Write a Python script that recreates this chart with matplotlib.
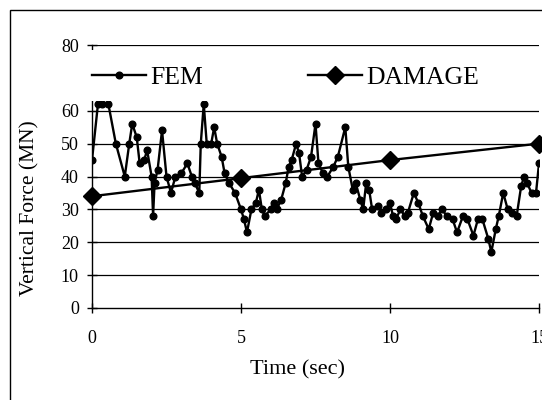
import matplotlib
matplotlib.use("Agg")

import matplotlib.pyplot as plt
from matplotlib.patches import Rectangle

# FEM vertical force time history (MN)
fem_time = [0.0, 0.2, 0.35, 0.55, 0.8, 1.1, 1.25, 1.35, 1.5, 1.6, 1.75, 1.85,
            2.0, 2.05, 2.1, 2.2, 2.35, 2.5, 2.65, 2.8, 3.0, 3.2, 3.35, 3.45,
            3.6, 3.65, 3.75, 3.85, 4.0, 4.1, 4.2, 4.35, 4.45, 4.6, 4.8, 5.0,
            5.1, 5.2, 5.35, 5.5, 5.6, 5.7, 5.8, 6.0, 6.1, 6.2, 6.35, 6.5,
            6.6, 6.7, 6.85, 6.95, 7.05, 7.2, 7.35, 7.5, 7.6, 7.75, 7.9, 8.1,
            8.25, 8.5, 8.6, 8.75, 8.85, 9.0, 9.1, 9.2, 9.3, 9.4, 9.6, 9.7,
            9.85, 10.0, 10.1, 10.2, 10.35, 10.5, 10.6, 10.8, 10.95, 11.1, 11.3,
            11.45, 11.6, 11.75, 11.9, 12.1, 12.25, 12.45, 12.6, 12.8, 12.95,
            13.1, 13.3, 13.4, 13.55, 13.65, 13.8, 13.95, 14.1, 14.25, 14.4,
            14.5, 14.6, 14.75, 14.9, 15.0]
fem_force = [45, 62, 62, 62, 50, 40, 50, 56, 52, 44, 45, 48,
             40, 28, 38, 42, 54, 40, 35, 40, 41, 44, 40, 38,
             35, 50, 62, 50, 50, 55, 50, 46, 41, 38, 35, 30,
             27, 23, 30, 32, 36, 30, 28, 30, 32, 30, 33, 38,
             43, 45, 50, 47, 40, 42, 46, 56, 44, 41, 40, 43,
             46, 55, 43, 36, 38, 33, 30, 38, 36, 30, 31, 29,
             30, 32, 28, 27, 30, 28, 29, 35, 32, 28, 24,
             29, 28, 30, 28, 27, 23, 28, 27, 22, 27,
             27, 21, 17, 24, 28, 35, 30, 29, 28, 37,
             40, 38, 35, 35, 44]

# damage model estimate
damage_time = [0, 5, 10, 15]
damage_force = [34, 39.5, 45, 50]

x_ticks = [0, 5, 10, 15]
y_ticks = [0, 10, 20, 30, 40, 50, 60, 80]

plt.rcParams["font.family"] = ["Liberation Serif", "DejaVu Serif"]

fig = plt.figure(figsize=(5.42, 4.0), dpi=100)
# chart area border
fig.patches.append(Rectangle((10 / 542, -0.1), 1.2, 1.1 - 10 / 400,
                             transform=fig.transFigure, fill=False,
                             edgecolor="black", linewidth=1.0))

ax = fig.add_axes([92 / 542, 1 - 308 / 400, 447 / 542, 263 / 400])
for v in range(10, 90, 10):
    ax.axhline(v, color="black", linewidth=0.9, zorder=1)

ax.plot(fem_time, fem_force, color="black", linewidth=1.7, marker="o",
        markersize=4.8, label="FEM", zorder=3)
ax.plot(damage_time, damage_force, color="black", linewidth=1.7, marker="D",
        markersize=9, label="DAMAGE", zorder=4, clip_on=False)

ax.set_xlim(0, 15)
ax.set_ylim(0, 80)
ax.set_xticks(x_ticks)
ax.set_yticks(y_ticks)
ax.tick_params(axis="both", labelsize=13, direction="inout", length=7,
               width=1, color="black")
ax.tick_params(axis="y", pad=6)
ax.tick_params(axis="x", pad=12)
for side in ("top", "right"):
    ax.spines[side].set_visible(False)
for side in ("left", "bottom"):
    ax.spines[side].set_linewidth(1.0)

ax.set_xlabel("Time (sec)", fontsize=16)
ax.xaxis.set_label_coords(0.46, -0.2)
ax.set_ylabel("Vertical Force (MN)", fontsize=15.5)
ax.yaxis.set_label_coords(-0.118, 0.38)

# white legend band across the top of the plot
ax.add_patch(Rectangle((-0.15, 63), 15.3, 15.5, facecolor="white",
                       edgecolor="none", zorder=6, clip_on=False))
leg = ax.legend(loc="center left", bbox_to_anchor=(-0.005, 0.878), ncol=2,
                fontsize=18.5, frameon=False, handlelength=2.1,
                handletextpad=0.15, columnspacing=4.1, borderpad=0.1,
                borderaxespad=0)
leg.set_zorder(7)

fig.savefig("out.png", dpi=100)
